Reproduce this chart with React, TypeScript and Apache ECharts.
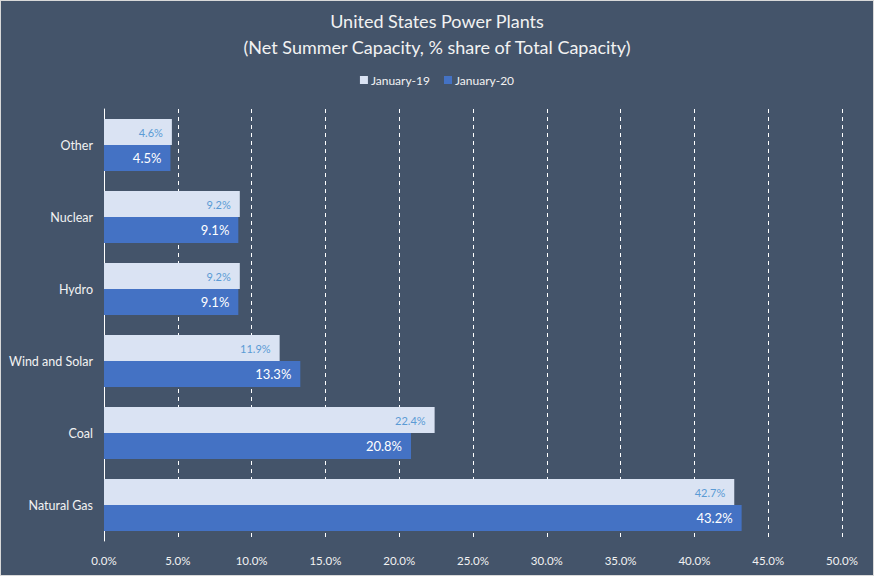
import React, { useEffect, useRef } from "react";
import * as echarts from "echarts";

const categories = ["Other", "Nuclear", "Hydro", "Wind and Solar", "Coal", "Natural Gas"];
const jan19 = [4.6, 9.2, 9.2, 11.9, 22.4, 42.7];
const jan20 = [4.5, 9.1, 9.1, 13.3, 20.8, 43.2];
const seriesNames = ["January-19", "January-20"];

const FONT = "Lato, 'Open Sans', sans-serif";

export default function App() {
  const ref = useRef<HTMLDivElement>(null);
  useEffect(() => {
    document.body.style.margin = "0";
    const chart = echarts.init(ref.current!, undefined, { renderer: "svg" });
    chart.setOption({
      animation: false,
      backgroundColor: "#44546A",
      title: {
        text: "United States Power Plants\n(Net Summer Capacity, % share of Total Capacity)",
        left: "center",
        top: 2,
        textStyle: {
          color: "#F2F2F2",
          fontFamily: FONT,
          fontSize: 18,
          fontWeight: "normal",
          lineHeight: 26,
        },
      },
      legend: {
        data: seriesNames,
        top: 68,
        left: "center",
        itemWidth: 8,
        itemHeight: 8,
        itemGap: 14,
        icon: "rect",
        textStyle: { color: "#F2F2F2", fontFamily: FONT, fontSize: 12, padding: [0, 0, 0, -2] },
      },
      grid: { left: 103, right: 31, top: 108, bottom: 34, containLabel: false },
      xAxis: {
        type: "value",
        min: 0,
        max: 50,
        interval: 5,
        axisLine: { show: false },
        axisTick: { show: false },
        axisLabel: {
          color: "#F2F2F2",
          fontFamily: FONT,
          fontSize: 11.5,
          margin: 13,
          formatter: (v: number) => v.toFixed(1) + "%",
        },
        splitLine: {
          show: true,
          lineStyle: { color: "#FFFFFF", type: [4, 4], width: 1 },
        },
      },
      yAxis: {
        type: "category",
        data: categories,
        inverse: true,
        axisLine: { show: true, lineStyle: { color: "#FFFFFF", width: 1 } },
        axisTick: { show: false },
        axisLabel: { color: "#F2F2F2", fontFamily: FONT, fontSize: 12.5, margin: 11 },
      },
      series: [
        {
          name: seriesNames[0],
          type: "bar",
          data: jan19,
          barGap: "0%",
          barCategoryGap: "28%",
          itemStyle: { color: "#DAE3F3" },
          label: {
            show: true,
            position: "insideRight",
            distance: 9,
            color: "#5B9BD5",
            fontFamily: FONT,
            fontSize: 11,
            formatter: (p: any) => p.value.toFixed(1) + "%",
          },
        },
        {
          name: seriesNames[1],
          type: "bar",
          data: jan20,
          barGap: "0%",
          barCategoryGap: "28%",
          itemStyle: { color: "#4472C4" },
          label: {
            show: true,
            position: "insideRight",
            distance: 9,
            color: "#FFFFFF",
            fontFamily: FONT,
            fontSize: 13,
            formatter: (p: any) => p.value.toFixed(1) + "%",
          },
        },
      ],
    });
    return () => chart.dispose();
  }, []);
  return (
    <div
      style={{
        position: "fixed",
        left: 0,
        top: 0,
        width: 874,
        height: 576,
        boxSizing: "border-box",
        border: "1px solid #D9D9D9",
        background: "#44546A",
      }}
    >
      <div ref={ref} style={{ width: 872, height: 574 }} />
    </div>
  );
}
